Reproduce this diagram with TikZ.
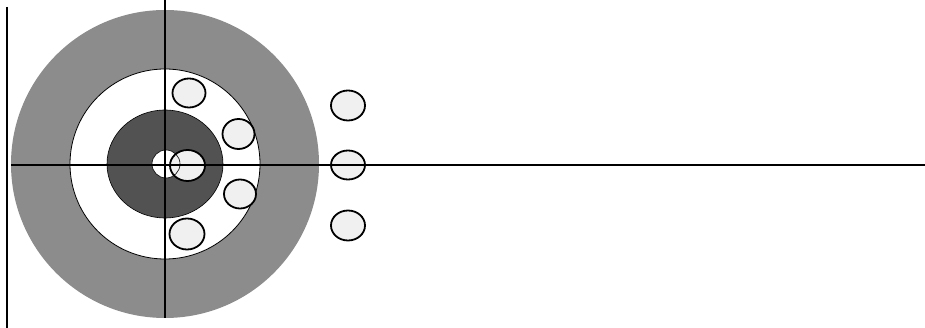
\documentclass[tikz,border=0pt]{standalone}
\begin{document}
\begin{tikzpicture}[x=1pt,y=-1pt,
  axisline/.style={line width=2pt,black},
  dot/.style={fill=black!6,draw=black,line width=1.8pt}]
\useasboundingbox (0,0) rectangle (925,328);
\coordinate (c) at (165,164);
% target rings
\fill[black!45] (c) circle[radius=154];
\draw[fill=white,line width=0.8pt] (c) circle[radius=95];
\draw[fill=black!68,line width=0.6pt] (c) ellipse[x radius=58,y radius=54];
\fill[white] (166,164) circle[radius=14];
% shots
\draw[dot] (189,93) ellipse[x radius=16.5,y radius=14.5];
\draw[dot] (238.5,134) ellipse[x radius=16,y radius=15];
\draw[dot] (187.5,165.5) ellipse[x radius=17.5,y radius=15.5];
\draw[dot] (240,194) ellipse[x radius=16,y radius=14.5];
\draw[dot] (187,234) ellipse[x radius=17.5,y radius=15.5];
\draw[dot] (348,105.5) ellipse[x radius=17,y radius=15];
\draw[dot] (348,165) ellipse[x radius=17,y radius=14.5];
\draw[dot] (348,225.5) ellipse[x radius=17,y radius=15];
\draw[line width=0.6pt] (166,164) circle[radius=14];
% axes
\coordinate (vtop) at (165,0);
\coordinate (vbot) at (165,318);
\coordinate (hl) at (11,165);
\coordinate (hr) at (925,165);
\coordinate (lt) at (7,7);
\coordinate (lb) at (7,328);
\draw[axisline] (vtop) -- (vbot);
\draw[axisline] (hl) -- (hr);
\draw[axisline] (lt) -- (lb);
\end{tikzpicture}
\end{document}
